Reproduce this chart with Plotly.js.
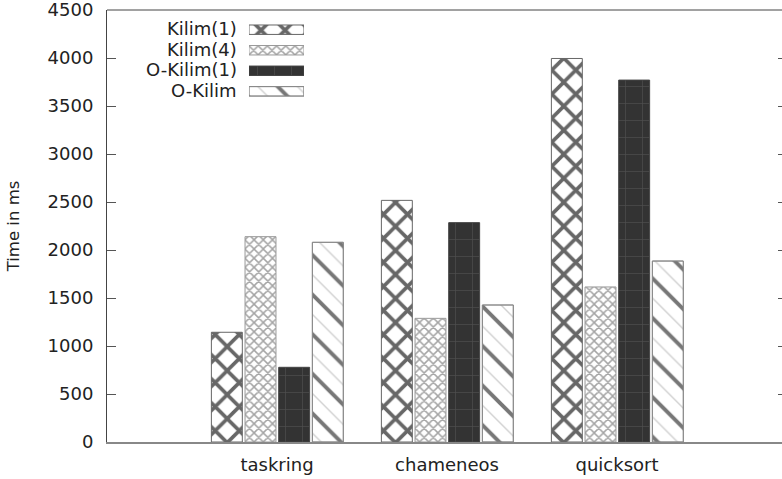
<!DOCTYPE html>
<html>
<head>
<meta charset="utf-8">
<script src="https://cdn.plot.ly/plotly-3.0.1.min.js"></script>
<style>
  html, body { margin: 0; padding: 0; overflow: hidden; background: #fff; }
  #chart { width: 792px; height: 479px; }
</style>
</head>
<body>
<div id="chart"></div>
<script>
// Benchmarks and run times (ms)
const benchmarks = ['taskring', 'chameneos', 'quicksort'];
const seriesNames = ['Kilim(1)', 'Kilim(4)', 'O-Kilim(1)', 'O-Kilim'];
const kilim1  = [1143, 2517, 3995];
const kilim4  = [2139, 1288, 1615];
const okilim1 = [778, 2285, 3770];
const okilim  = [2080, 1427, 1885];
const yTickVals = [0, 500, 1000, 1500, 2000, 2500, 3000, 3500, 4000, 4500];

const seriesValues = [kilim1, kilim4, okilim1, okilim];

// Fill styles, gnuplot-like hatching
const styles = [
  [{ bg: '#ffffff', fg: '#676767', shape: 'x', size: 17, solidity: 0.38, line: '#666666' }],
  [{ bg: '#ffffff', fg: '#a4a4a4', shape: 'x', size: 6.5, solidity: 0.4, line: '#999999' }],
  [{ bg: '#333333', fg: '#4e4e4e', shape: '+', size: 17, solidity: 0.08, line: '#444444' }],
  [{ bg: '#ffffff', fg: '#d0d0d0', shape: '\\', size: 14, solidity: 0.1, line: '#999999' },
   { bg: 'rgba(0,0,0,0)', fg: '#777777', shape: '\\', size: 28, solidity: 0.14, line: '#888888' }]
];

const slotOffsets = [-0.386, -0.188, 0.010, 0.208];
const barWidth = 0.182;

function markerFor(s) {
  return {
    color: s.bg,
    line: { color: s.line, width: 1 },
    pattern: { shape: s.shape, fgcolor: s.fg, bgcolor: s.bg, size: s.size, solidity: s.solidity, fillmode: 'replace' }
  };
}

const traces = [];
seriesNames.forEach((name, i) => {
  styles[i].forEach(s => {
    // main chart bars
    traces.push({
      type: 'bar', name: name, x: benchmarks, y: seriesValues[i],
      offset: slotOffsets[i], width: barWidth,
      marker: markerFor(s), xaxis: 'x', yaxis: 'y',
      showlegend: false, hoverinfo: 'skip'
    });
    // key swatch
    traces.push({
      type: 'bar', orientation: 'h', name: name, x: [1], y: [name],
      width: 0.46, marker: markerFor(s), xaxis: 'x2', yaxis: 'y2',
      showlegend: false, hoverinfo: 'skip'
    });
  });
});

const font = { family: 'DejaVu Sans, sans-serif', size: 18, color: '#222222' };

// Key labels, right-aligned to the left of each swatch
const keyLabels = seriesNames.map(name => ({
  xref: 'x2', yref: 'y2', x: 0, y: name, text: name,
  xanchor: 'right', yanchor: 'middle', xshift: -10, yshift: 1,
  showarrow: false, font: font
}));

const layout = {
  width: 792, height: 479,
  margin: { l: 107, r: 5, t: 10, b: 37, pad: 0 },
  paper_bgcolor: '#ffffff', plot_bgcolor: '#ffffff',
  barmode: 'overlay',
  font: font,
  showlegend: false,
  xaxis: {
    type: 'category', range: [-1, 3], categoryarray: benchmarks,
    showgrid: false, zeroline: false, ticks: '',
    showline: true, linecolor: '#888888', linewidth: 1.5,
    tickfont: font, ticklabelstandoff: 6
  },
  yaxis: {
    range: [0, 4500], tickvals: yTickVals, ticktext: yTickVals.map(String),
    showgrid: false, zeroline: false,
    ticks: 'inside', ticklen: 9, tickcolor: '#555555', tickwidth: 1,
    showline: true, linecolor: '#444444', linewidth: 1, mirror: 'ticks',
    tickfont: font, ticklabelstandoff: 9, ticklabeloverflow: 'allow',
    title: { text: 'Time in ms', font: { family: 'DejaVu Sans, sans-serif', size: 16.5, color: '#222222' }, standoff: 23 }
  },
  xaxis2: {
    domain: [0.2088, 0.2897], range: [0, 1], anchor: 'y2',
    visible: false, fixedrange: true
  },
  yaxis2: {
    domain: [0.7805, 0.981], anchor: 'x2', type: 'category',
    categoryarray: seriesNames, autorange: 'reversed',
    showgrid: false, zeroline: false, showline: false, ticks: '',
    showticklabels: false, fixedrange: true
  },
  annotations: keyLabels,
  shapes: [{
    type: 'line', xref: 'paper', yref: 'paper', x0: 0, x1: 1, y0: 1, y1: 1,
    line: { color: '#444444', width: 1 }
  }]
};

Plotly.newPlot('chart', traces, layout, { staticPlot: true, displayModeBar: false });
</script>
</body>
</html>
